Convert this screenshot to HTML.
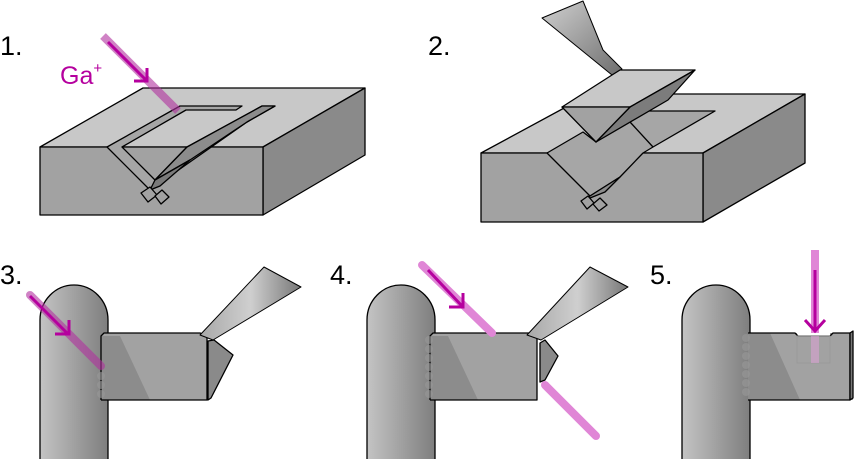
<!DOCTYPE html>
<html><head><meta charset="utf-8"><style>
html,body{margin:0;padding:0;background:#fff;}
svg{display:block;}
text{font-family:"Liberation Sans",sans-serif;}
</style></head><body>
<svg width="855" height="459" viewBox="0 0 855 459" xmlns="http://www.w3.org/2000/svg">
<defs>
<linearGradient id="post" x1="0" x2="1" y1="0" y2="0"><stop offset="0" stop-color="#c4c4c4"/><stop offset="1" stop-color="#7e7e7e"/></linearGradient>
<linearGradient id="ndl" x1="0" x2="1" y1="0" y2="1"><stop offset="0" stop-color="#d0d0d0"/><stop offset="1" stop-color="#6e6e6e"/></linearGradient>
<linearGradient id="ndl2" x1="0" x2="1" y1="0" y2="0"><stop offset="0" stop-color="#a8a8a8"/><stop offset="0.5" stop-color="#cfcfcf"/><stop offset="1" stop-color="#777"/></linearGradient>
</defs>
<g stroke="#000" stroke-width="1.3" stroke-linejoin="round">
<!-- Panel 1 -->
<polygon points="40,147 143,88 365,88 263,147" fill="#c8c8c8"/>
<polygon points="263,147 365,88 365,155 263,215" fill="#8a8a8a"/>
<rect x="40" y="147" width="223" height="68" fill="#a2a2a2"/>
<polygon points="107,147 180,106 242,106 236,110 186,110 122,147 155,180 187,147 262,106 275,106 247,122 150,190" fill="#a6a6a6"/>
<polygon points="187,147 262,106 275,106 247,122 190,160 155,180" fill="#8c8c8c"/>
<polygon points="155,180 190,160 160,186 150,190" fill="#7a7a7a"/>
<polygon points="141,193 150,187 157,195 148,202" fill="#a2a2a2"/>
<polygon points="155,196 162,190 169,197 161,204" fill="#a2a2a2"/>
<!-- Panel 2 -->
<polygon points="481,153 590,94 805,94 703,153" fill="#c8c8c8"/>
<polygon points="703,153 805,94 805,163 703,222" fill="#8a8a8a"/>
<rect x="481" y="153" width="222" height="69" fill="#a2a2a2"/>
<polygon points="547,153 583,132 596,142 630,117 648,111 715,111 653,147 643,153 620,177 590,196 547,153" fill="#a6a6a6"/>
<line x1="630" y1="122" x2="653" y2="147"/>
<polygon points="590,196 620,177 605,192 585,200" fill="#8c8c8c"/>
<polygon points="581,201 588,196 594,203 587,209" fill="#a2a2a2"/>
<polygon points="593,204 600,198 607,205 599,211" fill="#a2a2a2"/>
<polygon points="542,18 583,1 603,50 622,69 612,75" fill="url(#ndl)" stroke-width="1"/>
<polygon points="612,75 620,70 695,70 630,107 562,107" fill="#c8c8c8"/>
<polygon points="695,70 668,100 596,142 630,107" fill="#7c7c7c"/>
<polygon points="562,107 630,107 596,142" fill="#a2a2a2"/>
<!-- Panel 3 -->
<path d="M40,459 V320 A34,35 0 0 1 108,320 V459" fill="url(#post)"/>
<polygon points="101,336 104,333 200,333 207,336 207,400 101,400" fill="#a2a2a2" stroke="none"/>
<polygon points="101,336 120,336 150,400 101,400" fill="#8c8c8c" stroke="none"/>
<polyline points="101,400 101,336 104,333 200,333 207,336 207,400 101,400" fill="none"/>
<polygon points="208,341 214,340 233,355 211,398 208,400" fill="#8a8a8a"/>
<polygon points="200,335 264,267 301,287 213,340" fill="url(#ndl2)" stroke-width="1"/>
<!-- Panel 4 -->
<path d="M367,459 V320 A34,35 0 0 1 435,320 V459" fill="url(#post)"/>
<polygon points="430,336 433,333 530,333 537,336 537,400 430,400" fill="#a2a2a2" stroke="none"/>
<polygon points="430,336 448,336 478,400 430,400" fill="#8c8c8c" stroke="none"/>
<polyline points="430,400 430,336 433,333 530,333 537,336 537,400 430,400" fill="none"/>
<polygon points="540,343 545,340 558,356 545,380 540,382" fill="#8a8a8a"/>
<polygon points="527,335 590,267 628,287 541,340" fill="url(#ndl2)" stroke-width="1"/>
<!-- Panel 5 -->
<path d="M682,459 V320 A34,35 0 0 1 750,320 V459" fill="url(#post)"/>
<polygon points="748,333 797,333 797,336 830,336 830,333 853,333 853,400 748,400" fill="#a2a2a2" stroke="none"/>
<polygon points="748,333 770,333 800,400 748,400" fill="#8c8c8c" stroke="none"/>
<polyline points="748,333 795,333 798,336 830,336 833,333 850,333 850,400 748,400" fill="none"/>
<polygon points="850,333 853,331 853,398 850,400" fill="#777"/>
<rect x="797" y="336" width="33" height="27" fill="none" stroke="#999" stroke-width="1"/>
</g>
<!-- dots -->
<g fill="#999" opacity="0.6">
<circle cx="101" cy="376" r="4"/><circle cx="101" cy="385" r="4"/><circle cx="101" cy="394" r="4"/>
<circle cx="429" cy="340" r="4"/><circle cx="429" cy="349" r="4"/><circle cx="429" cy="358" r="4"/><circle cx="429" cy="367" r="4"/><circle cx="429" cy="376" r="4"/><circle cx="429" cy="385" r="4"/><circle cx="429" cy="394" r="4"/>
<circle cx="746" cy="338" r="4"/><circle cx="746" cy="347" r="4"/><circle cx="746" cy="356" r="4"/><circle cx="746" cy="365" r="4"/><circle cx="746" cy="374" r="4"/><circle cx="746" cy="383" r="4"/><circle cx="746" cy="392" r="4"/>
</g>
<!-- beams -->
<g stroke-linecap="round" fill="none">
<line x1="103" y1="36" x2="178" y2="111" stroke="#b0309f" stroke-opacity="0.6" stroke-width="8" stroke-linecap="butt"/>
<line x1="30" y1="295" x2="101" y2="366" stroke="#b0309f" stroke-opacity="0.6" stroke-width="8"/>
<line x1="422" y1="265" x2="492" y2="333" stroke="#e086d6" stroke-width="8"/>
<line x1="545" y1="385" x2="596" y2="436" stroke="#e086d6" stroke-width="8"/>
<line x1="815" y1="250" x2="815" y2="333" stroke="#e086d6" stroke-width="8" stroke-linecap="butt"/>
<rect x="811" y="336" width="8" height="27" fill="#d9a2d2" stroke="none" opacity="0.6"/>
</g>
<g stroke="#b5009e" stroke-width="3" fill="none">
<line x1="108" y1="42" x2="146" y2="80"/><polyline points="134,81 147,81 147,68"/>
<line x1="30" y1="296" x2="68" y2="334"/><polyline points="55,334 69,334 69,320"/>
<line x1="428" y1="270" x2="462" y2="306"/><polyline points="449,307 463,307 463,293"/>
<line x1="815" y1="270" x2="815" y2="331"/><polyline points="805,320 815,331 825,320"/>
</g>
<g font-size="27">
<text x="0" y="55">1.</text>
<text x="428" y="55">2.</text>
<text x="0" y="284">3.</text>
<text x="330" y="284">4.</text>
<text x="650" y="284">5.</text>
<text x="60" y="84" fill="#b5009e" font-size="25">Ga<tspan font-size="15" dy="-11">+</tspan></text>
</g>
</svg>
</body></html>
